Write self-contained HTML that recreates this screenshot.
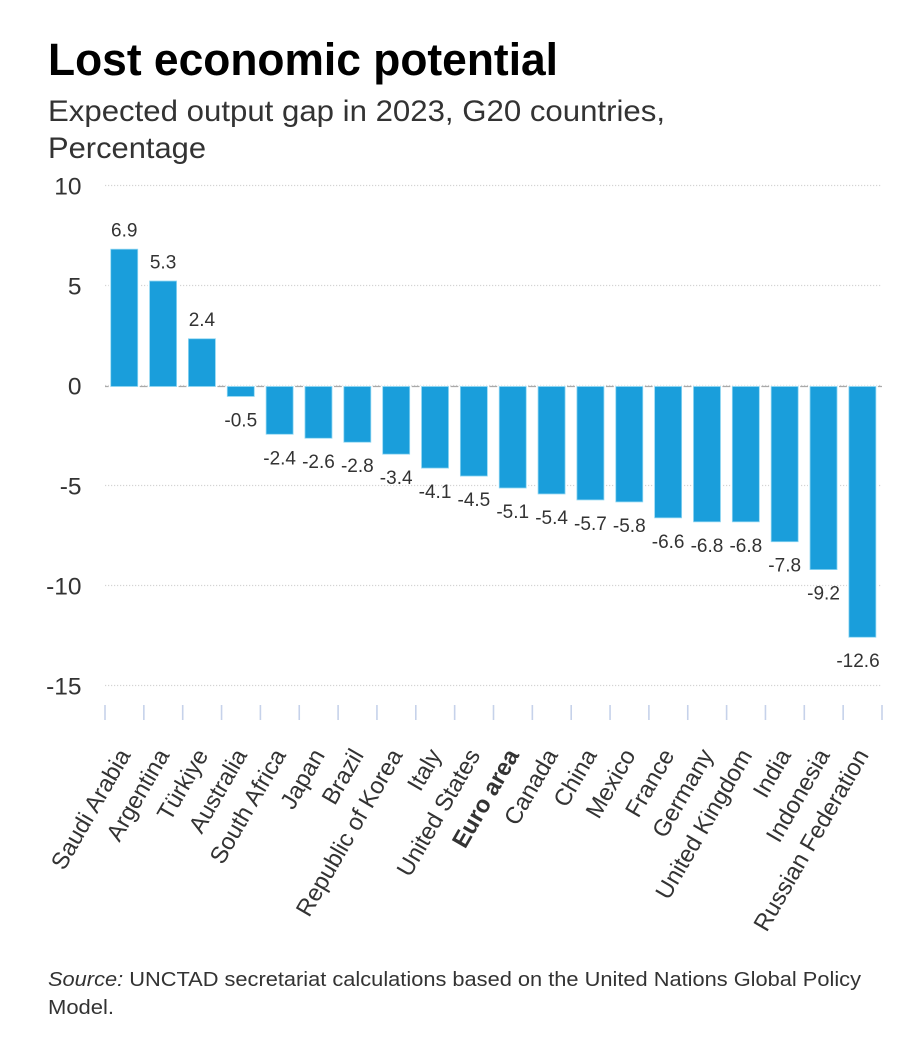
<!DOCTYPE html>
<html lang="en">
<head>
<meta charset="utf-8">
<title>Lost economic potential</title>
<style>
html,body{margin:0;padding:0;background:#fff;}
body{width:910px;height:1046px;overflow:hidden;font-family:"Liberation Sans",sans-serif;}
svg{display:block;}
text{font-family:"Liberation Sans",sans-serif;fill:#333;}
</style>
</head>
<body>
<svg id="chart" width="910" height="1046" viewBox="0 0 910 1046" xmlns="http://www.w3.org/2000/svg">
  <text x="48" y="75" font-size="45" font-weight="700" style="fill:#000" textLength="510" lengthAdjust="spacingAndGlyphs">Lost economic potential</text>
  <text x="48" y="121" font-size="29.5" textLength="617" lengthAdjust="spacingAndGlyphs">Expected output gap in 2023, G20 countries,</text>
  <text x="48" y="158" font-size="29.5" textLength="158" lengthAdjust="spacingAndGlyphs">Percentage</text>
  <g id="grid"></g>
  <g id="yaxis"></g>
  <line x1="105" x2="882" y1="386.5" y2="386.5" stroke="#aaa" stroke-width="1.2"></line>
  <g id="bars"></g>
  <g id="values"></g>
  <g id="ticks"></g>
  <g id="xlabels"></g>
  <text x="48" y="986" font-size="20.5" textLength="813" lengthAdjust="spacingAndGlyphs"><tspan font-style="italic">Source:</tspan> UNCTAD secretariat calculations based on the United Nations Global Policy</text>
  <text x="48" y="1014" font-size="20.5" textLength="66" lengthAdjust="spacingAndGlyphs">Model.</text>
</svg>
<script>
const categories = ["Saudi Arabia","Argentina","Türkiye","Australia","South Africa","Japan","Brazil","Republic of Korea","Italy","United States","Euro area","Canada","China","Mexico","France","Germany","United Kingdom","India","Indonesia","Russian Federation"];
const seriesValues = [6.9,5.3,2.4,-0.5,-2.4,-2.6,-2.8,-3.4,-4.1,-4.5,-5.1,-5.4,-5.7,-5.8,-6.6,-6.8,-6.8,-7.8,-9.2,-12.6];
const yTicks = [10,5,0,-5,-10,-15];
const highlighted = ["Euro area"];

const NS = "http://www.w3.org/2000/svg";
function xBand(i){ return 105 + i * 38.85; }
function xCenter(i){ return xBand(i) + 38.85 / 2 - 0.2; }
function yBar(v){ return 386.5 - v * 19.9; }
function yTick(v){ return 385.5 - v * 20; }
function mk(tag, parentId){
  const el = document.createElementNS(NS, tag);
  document.getElementById(parentId).appendChild(el);
  return el;
}

yTicks.forEach(function(t){
  const g = mk("line", "grid");
  
  
  g.setAttribute("x1", 105);
  g.setAttribute("x2", 881);
  g.setAttribute("y1", yTick(t));
  g.setAttribute("y2", yTick(t));
  g.setAttribute("stroke", "#d4d4d4");
  g.setAttribute("stroke-width", "1.2");
  g.setAttribute("stroke-dasharray", "1.2 1.8");
  const l = mk("text", "yaxis");
  
  
  l.setAttribute("x", 81.5);
  l.setAttribute("y", yTick(t) + 9);
  l.setAttribute("text-anchor", "end");
  l.setAttribute("font-size", "24.5");
  l.textContent = String(t);
});

categories.forEach(function(c, i){
  const v = seriesValues[i];
  const cx = xCenter(i);
  const halo = mk("rect", "bars");
  
  
  halo.setAttribute("x", cx - 15.5);
  halo.setAttribute("width", 31);
  halo.setAttribute("y", Math.min(yBar(v), yBar(0)) - 1);
  halo.setAttribute("height", Math.abs(yBar(v) - yBar(0)) + 2);
  halo.setAttribute("fill", "#fff");

  const r = mk("rect", "bars");
  
  
  r.setAttribute("x", cx - 13.5);
  r.setAttribute("width", 27);
  r.setAttribute("y", Math.min(yBar(v), yBar(0)));
  r.setAttribute("height", Math.abs(yBar(v) - yBar(0)));
  r.setAttribute("fill", "#1a9edb");
  r.setAttribute("stroke", "#8fd6f2");
  r.setAttribute("stroke-width", "0.8");

  const t = mk("text", "values");
  
  
  t.setAttribute("x", Math.min(cx, 858));
  t.setAttribute("y", v >= 0 ? yBar(v) - 12.5 : yBar(v) + 30);
  t.setAttribute("text-anchor", "middle");
  t.setAttribute("font-size", "19");
  t.textContent = v.toFixed(1);

  const k = mk("text", "xlabels");
  
  
  const ax = cx + 7;
  const ay = 755;
  k.setAttribute("transform", "translate(" + ax + "," + ay + ") rotate(-60)");
  k.setAttribute("text-anchor", "end");
  k.setAttribute("font-size", "23.7");
  if (highlighted.indexOf(c) >= 0) k.setAttribute("font-weight", "700");
  k.textContent = c;
});

for (let i = 0; i <= categories.length; i++) {
  const m = mk("line", "ticks");
  
  
  m.setAttribute("x1", xBand(i));
  m.setAttribute("x2", xBand(i));
  m.setAttribute("y1", 705);
  m.setAttribute("y2", 720);
  m.setAttribute("stroke", "#c6d2ea");
  m.setAttribute("stroke-width", "1.6");
}
</script>
</body>
</html>
